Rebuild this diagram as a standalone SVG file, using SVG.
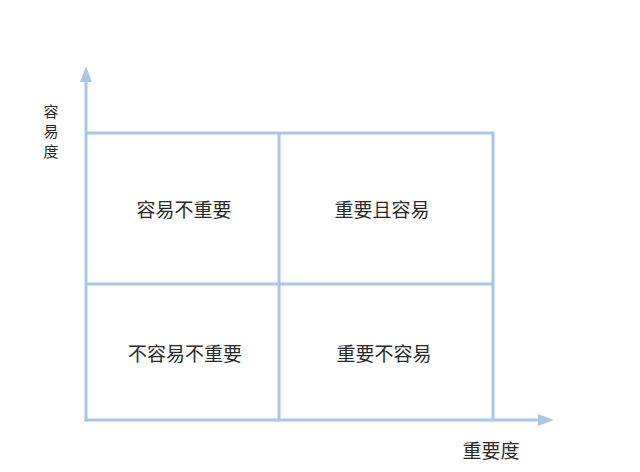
<svg xmlns="http://www.w3.org/2000/svg" width="640" height="472" viewBox="0 0 640 472">
<style>
.ln{stroke:#a8c7e6;stroke-width:3;fill:none}
.t{font-family:"Noto Sans CJK SC","Noto Sans CJK JP",sans-serif;font-size:19px;fill:#2a2a2a;text-anchor:middle;dominant-baseline:central}
.v{font-size:15px}
</style>
<defs>
<marker id="ah" viewBox="0 0 16 12" refX="2" refY="6" markerWidth="16" markerHeight="12" markerUnits="userSpaceOnUse" orient="auto">
<path d="M0,0 L16,6 L0,12 Z" fill="#a8c7e6"/>
</marker>
</defs>
<rect width="640" height="472" fill="#fff"/>
<g id="connectors">
<line class="ln" x1="86" y1="421.5" x2="86" y2="80" marker-end="url(#ah)"/>
<line class="ln" x1="84.5" y1="420" x2="540" y2="420" marker-end="url(#ah)"/>
</g>
<g id="grid">
<polyline class="ln" points="86,133 493,133 493,420"/>
<line class="ln" x1="279" y1="133" x2="279" y2="420"/>
<line class="ln" x1="86" y1="284" x2="493" y2="284"/>
</g>
<g id="q1"><text class="t" x="184" y="208">容易不重要</text></g>
<g id="q2"><text class="t" x="382" y="208">重要且容易</text></g>
<g id="q3"><text class="t" x="185" y="352">不容易不重要</text></g>
<g id="q4"><text class="t" x="384" y="352">重要不容易</text></g>
<g id="ylabel">
<text class="t v" x="51" y="110">容</text>
<text class="t v" x="51" y="130">易</text>
<text class="t v" x="51" y="150">度</text>
</g>
<g id="xlabel"><text class="t" x="491" y="449">重要度</text></g>
</svg>
